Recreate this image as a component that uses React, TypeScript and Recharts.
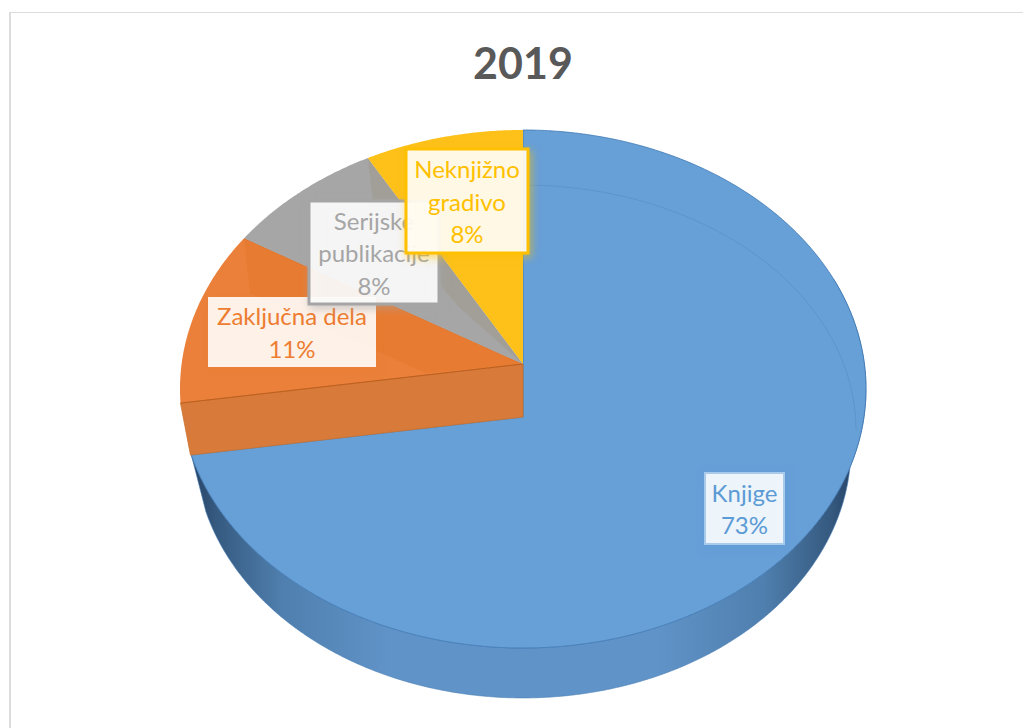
import React from "react";
import { PieChart, Pie } from "recharts";

const categories = ["Knjige", "Zaključna dela", "Serijske publikacije", "Neknjižno gradivo"];
const shares = [72.6, 11.0, 8.2, 8.2];
const colors = ["#679FD7", "#EA803A", "#A6A6A6", "#FDC11A"];
const textColors = ["#5B9BD5", "#ED7D31", "#A5A5A5", "#FFC000"];
const labelLines = [["Knjige"], ["Zaključna dela"], ["Serijske", "publikacije"], ["Neknjižno", "gradivo"]];
const chartTitle = "2019";

// label box layout [left, top, right, bottom]
const labelBoxes = [
  [705, 473, 784, 544],
  [208, 297, 376, 367],
  [309, 201, 439, 304],
  [406, 149, 528, 253],
];
const boxBorders = ["#A9CBEB", "none", "#A5A5A5", "#FFC000"];
const boxBorderWidths = [2, 0, 3, 3];

const table = categories.map((name, i) => ({ name, value: shares[i], fill: colors[i] }));

const FONT = "Lato, Carlito, Calibri, sans-serif";
const PERSPECTIVE = 0.0965;
const Y_RATIO = 0.7516;
const WALL_DROP = 53;

const project = (cx: number, cy: number, r: number, deg: number) => {
  const t = (deg * Math.PI) / 180;
  const u = Math.cos(t);
  const v = Math.sin(t);
  const d = 1 + PERSPECTIVE * v;
  return [cx + (r * u) / d, cy - (r * Y_RATIO * v) / d];
};

const arcPoints = (cx: number, cy: number, r: number, from: number, to: number) => {
  const pts: number[][] = [];
  const n = Math.max(2, Math.ceil(Math.abs(to - from) * 2));
  for (let i = 0; i <= n; i++) pts.push(project(cx, cy, r, from + ((to - from) * i) / n));
  return pts;
};

const toPath = (pts: number[][], close = true) =>
  "M" + pts.map((p) => `${p[0].toFixed(2)} ${p[1].toFixed(2)}`).join("L") + (close ? "Z" : "");

function SliceShape(props: any) {
  const { cx, cy, outerRadius: r, startAngle, endAngle, fill, index } = props;
  if (index === 0) {
    const end = project(cx, cy, r, endAngle);
    const slope = (end[1] - cy) / (end[0] - cx);
    const lineY = (x: number) => cy + WALL_DROP + (x - cx) * slope;
    let stop = endAngle;
    while (stop < startAngle) {
      const p = project(cx, cy, r, stop);
      if (p[1] >= lineY(p[0])) break;
      stop += 0.1;
    }
    const top = arcPoints(cx, cy, r, startAngle, stop);
    const topFace = [...top, [cx, cy + WALL_DROP]];
    // lower rim of the side wall
    const wallTop = arcPoints(cx, cy, r, 20, stop);
    const wallBottom = wallTop
      .map((p) => [cx + (p[0] - cx) * 0.956, cy + 84 + (p[1] - cy - 25) * 0.965])
      .reverse();
    return (
      <g>
        <defs>
          <linearGradient id="wallGrad" gradientUnits="userSpaceOnUse" x1={cx - 335} x2={cx + 335} y1="0" y2="0">
            <stop offset="0" stopColor="#243F62" />
            <stop offset="0.04" stopColor="#35597F" />
            <stop offset="0.14" stopColor="#4F7FAE" />
            <stop offset="0.3" stopColor="#6093C8" />
            <stop offset="0.7" stopColor="#6093C8" />
            <stop offset="0.86" stopColor="#4F7FAE" />
            <stop offset="0.96" stopColor="#35597F" />
            <stop offset="1" stopColor="#243F62" />
          </linearGradient>
        </defs>
        <path d={toPath([...wallTop, ...wallBottom])} fill="url(#wallGrad)" stroke="#4A7FB5" strokeWidth={0.6} />
        <path d={toPath(topFace)} fill={fill} stroke="#3F78B2" strokeWidth={0.8} />
        <path
          d={`M${cx} ${cy - 179}A333 245 0 0 1 ${cx + 333} ${cy + 66}`}
          fill="none"
          stroke="#4F86BE"
          strokeOpacity={0.55}
          strokeWidth={0.8}
        />
      </g>
    );
  }
  const pts = arcPoints(cx, cy, r, startAngle, endAngle);
  const first = pts[0];
  const last = pts[pts.length - 1];
  const face = toPath([[cx, cy], ...pts]);
  return (
    <g>
      <path d={face} fill={fill} stroke="none" />
      {index === 1 && (
        <g>
          <path
            d={toPath([[cx, cy], last, [last[0] + 6, cy - 71], [cx - 98, cy + 9]])}
            fill="#E0701F"
            fillOpacity={0.3}
          />
          <path
            d={toPath([first, [cx, cy], [cx, cy + WALL_DROP], [first[0] + 10, first[1] + 52]])}
            fill="#D87A39"
            stroke="#C9712F"
            strokeWidth={0.8}
          />
          <path d={toPath([first, [cx, cy]], false)} stroke="#BD5F1E" strokeWidth={1} fill="none" />
          <path d={toPath([[cx, cy], last], false)} stroke="#BD5F1E" strokeOpacity={0.7} strokeWidth={0.8} fill="none" />
        </g>
      )}
      {index === 2 && (
        <g>
          <path d={toPath([[cx, cy], last, [last[0] + 6, cy - 158], [cx - 65, cy - 58]])} fill="#A09D94" fillOpacity={0.8} />
        </g>
      )}
    </g>
  );
}

function BoxLabel(props: any) {
  const { index, percent } = props;
  const [l, t, r, b] = labelBoxes[index];
  const lines = [...labelLines[index], `${Math.round(percent * 100)}%`];
  const mid = (t + b) / 2;
  return (
    <g>
      <rect
        x={l}
        y={t}
        width={r - l}
        height={b - t}
        fill="#FFFFFF"
        fillOpacity={0.89}
        stroke={boxBorders[index]}
        strokeWidth={boxBorderWidths[index]}
        style={{ filter: `drop-shadow(2px 3px 4px ${textColors[index]}99)` }}
      />
      {lines.map((line, i) => (
        <text
          key={i}
          x={(l + r) / 2}
          y={mid + (i - (lines.length - 1) / 2) * 32.5 + 9.5}
          textAnchor="middle"
          fontFamily={FONT}
          fontSize={24}
          fill={textColors[index]}
        >
          {line}
        </text>
      ))}
    </g>
  );
}

export default function App() {
  return (
    <div style={{ position: "fixed", left: 0, top: 0, width: 1023, height: 728, overflow: "hidden", background: "#fff" }}>
      <div
        style={{
          position: "absolute",
          left: 9,
          top: 12,
          width: 1100,
          height: 800,
          borderLeft: "2px solid #DCDCDC",
          borderTop: "1.5px solid #DCDCDC",
        }}
      />
      <div
        style={{
          position: "absolute",
          left: 0,
          width: 1046,
          top: 38,
          textAlign: "center",
          fontFamily: FONT,
          fontWeight: 700,
          fontSize: 43,
          lineHeight: "50px",
          color: "#595959",
        }}
      >
        {chartTitle}
      </div>
      <div style={{ position: "absolute", left: 0, top: 0 }}>
        <PieChart width={1023} height={728} margin={{ top: 0, right: 0, bottom: 0, left: 0 }}>
          <Pie
            data={table}
            dataKey="value"
            nameKey="name"
            cx={523}
            cy={364}
            outerRadius={341.4}
            innerRadius={0}
            startAngle={90}
            endAngle={-270}
            paddingAngle={0}
            stroke="none"
            isAnimationActive={false}
            shape={SliceShape}
            activeShape={SliceShape}
            inactiveShape={SliceShape}
            label={BoxLabel}
            labelLine={false}
          />
        </PieChart>
      </div>
    </div>
  );
}
